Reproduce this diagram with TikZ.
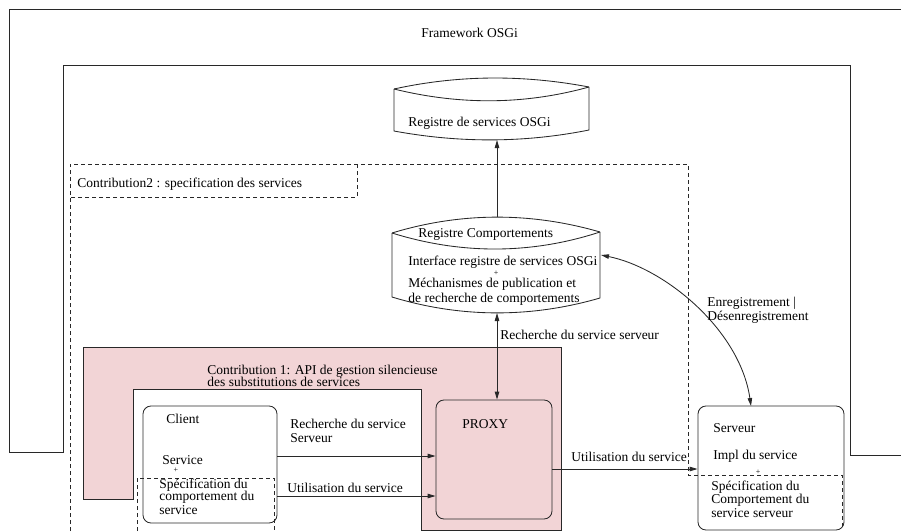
\documentclass[tikz,border=0pt]{standalone}
\usepackage{fontspec}
\setmainfont{Liberation Serif}
\usetikzlibrary{arrows.meta,calc}
\definecolor{pinkfill}{RGB}{242,212,214}
\definecolor{ln}{RGB}{40,40,40}
\begin{document}
\begin{tikzpicture}[x=1pt,y=-1pt, line width=0.85pt, color=ln,
  txt/.style={anchor=base west, inner sep=0, text=black, font=\fontsize{13.5}{15}\selectfont},
  plus/.style={inner sep=0, text=black, font=\fontsize{8}{8}\selectfont},
  dsh/.style={draw=ln, line width=0.7pt, dash pattern=on 4pt off 3pt},
  arr/.style={-{Triangle[length=8pt,width=4.5pt]}},
  arrb/.style={{Triangle[length=8pt,width=4.5pt]}-{Triangle[length=8pt,width=4.5pt]}},
  rbox/.style={draw=ln, rounded corners=8pt, inner sep=0}]
\useasboundingbox (0,0) rectangle (901,531);

% framework frame
\draw (901,9) -- (9,9) -- (9,452) -- (63,452) -- (63,65) -- (850,65) -- (850,455) -- (901,455);
\node[txt] (tfw) at (421,37) {Framework OSGi};

% contribution 1 region
\filldraw[fill=pinkfill, draw=ln] (83,347) -- (561,347) -- (561,530) -- (421,530) -- (421,389) -- (133,389) -- (133,499) -- (83,499) -- cycle;
\node[txt] (tc1a) at (207,374) {Contribution 1: API de gestion silencieuse};
\node[txt] (tc1b) at (207,386) {des substitutions de services};

% contribution 2 region
\draw[dsh] (70,531) -- (70,164) -- (688,164) -- (688,475) -- (842,475) -- (842,527);
\draw[dsh] (357,164) -- (357,197) -- (70,197);
\draw[dsh] (137,531) -- (137,478) -- (274,478) -- (274,531);
\node[txt] (tc2) at (77,187) {Contribution2 : specification des services};

% OSGi registry cylinder
\draw (394,89) .. controls (459,74.7) and (524,74.7) .. (589,87);
\draw (394,89) .. controls (459,105) and (524,105) .. (589,87);
\draw (394,89) -- (394,131) .. controls (459,143) and (524,143) .. (589,130) -- (589,87);
\coordinate (osgibot) at (497,140);
\node[txt] (tosgi) at (408,126) {Registre de services OSGi};

% behaviour registry cylinder
\draw (392,233) .. controls (461,212) and (531,212) .. (600,232);
\draw (392,233) .. controls (461,254.5) and (531,254.5) .. (600,232);
\draw (392,233) -- (392,297) .. controls (461,318) and (531,318) .. (600,298) -- (600,232);
\coordinate (rctop) at (497,217);
\coordinate (rcbot) at (497,313);
\coordinate (rcright) at (601,255);
\node[txt] (trc1) at (418,237) {Registre Comportements};
\node[txt] (trc2) at (408,265) {Interface registre de services OSGi};
\node[plus] (trc3) at (496,273.5) {+};
\node[txt] (trc4) at (408,287) {Méchanismes de publication et};
\node[txt] (trc5) at (408,302) {de recherche de comportements};

% boxes
\node[rbox, minimum width=134pt, minimum height=117pt] (client) at (210,464.5) {};
\node[rbox, fill=pinkfill, minimum width=116pt, minimum height=119pt] (proxy) at (494,459.5) {};
\node[rbox, minimum width=146pt, minimum height=124pt] (serveur) at (771,468) {};
\coordinate (srvtop) at (751,406);

\node[txt] (tcl1) at (166,423) {Client};
\node[txt] (tcl2) at (162,464) {Service};
\node[plus] (tcl3) at (176,470) {+};
\node[txt] (tcl4) at (159,488) {Spécification du};
\node[txt] (tcl5) at (159,500) {comportement du};
\node[txt] (tcl6) at (159,514) {service};

\node[txt] (tpx) at (462,428) {PROXY};

\node[txt] (tsv1) at (713,432) {Serveur};
\node[txt] (tsv2) at (713,459) {Impl du service};
\node[plus] (tsv3) at (758,472) {+};
\node[txt] (tsv4) at (711,490) {Spécification du};
\node[txt] (tsv5) at (711,503) {Comportement du};
\node[txt] (tsv6) at (711,517) {service serveur};

% connectors
\draw[arr] (rctop) -- (osgibot);
\draw[arrb] (rcbot) -- (rcbot |- proxy.north);
\node[txt] (trech) at (500,339) {Recherche du service serveur};

\draw[arrb] (rcright) .. controls (665,268) and (740,330) .. (srvtop);
\node[txt] (tenr1) at (707,306) {Enregistrement |};
\node[txt] (tenr2) at (707,320) {Désenregistrement};

\draw[arr] ([yshift=8.5pt]client.east) -- ([yshift=8.5pt]client.east -| proxy.west);
\node[txt] (tr1) at (290,428) {Recherche du service};
\node[txt] (tr2) at (290,442) {Serveur};
\draw[arr] ([yshift=-31.5pt]client.east) -- ([yshift=-31.5pt]client.east -| proxy.west);
\node[txt] (tu1) at (287,492) {Utilisation du service};

\draw[arr] ([yshift=-9.5pt]proxy.east) -- ([yshift=-9.5pt]proxy.east -| serveur.west);
\node[txt] (tu2) at (571,461) {Utilisation du service};
\end{tikzpicture}
\end{document}
